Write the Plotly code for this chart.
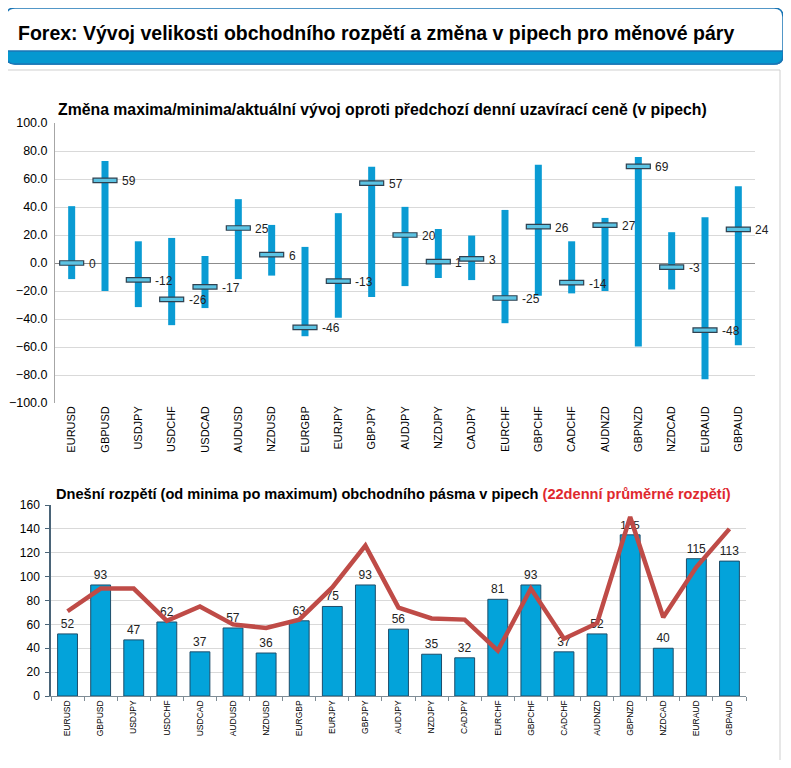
import plotly.graph_objects as go

# The page body has an 8px margin, so the figure is sized to fit inside it.
OFF = 8
W, H = 791 - 2 * OFF, 768 - 2 * OFF

pairs = ["EURUSD", "GBPUSD", "USDJPY", "USDCHF", "USDCAD", "AUDUSD", "NZDUSD",
         "EURGBP", "EURJPY", "GBPJPY", "AUDJPY", "NZDJPY", "CADJPY", "EURCHF",
         "GBPCHF", "CADCHF", "AUDNZD", "GBPNZD", "NZDCAD", "EURAUD", "GBPAUD"]

# change of daily high / low vs previous close (pips)
day_high = [40.6, 72.8, 15.5, 17.9, 5.0, 45.6, 27.2, 11.5, 35.6, 68.7, 40.1,
            24.3, 19.6, 37.9, 70.2, 15.5, 32.2, 75.7, 22.0, 32.7, 54.9]
day_low = [-11.5, -20.0, -31.5, -44.4, -32.2, -11.5, -9.0, -52.3, -39.1, -24.3, -16.5,
           -10.7, -12.2, -43.0, -23.4, -21.7, -20.0, -59.7, -18.9, -83.0, -58.7]
current = [0, 59, -12, -26, -17, 25, 6, -46, -13, 57, 20,
           1, 3, -25, 26, -14, 27, 69, -3, -48, 24]

# today's range (pips) and 22-day average range
today_range = [52, 93, 47, 62, 37, 57, 36, 63, 75, 93, 56,
               35, 32, 81, 93, 37, 52, 135, 40, 115, 113]
avg22_range = [71, 90, 90, 63, 75, 60, 57, 64, 91, 126, 74,
               65, 64, 38, 90, 48, 61, 150, 66, 108, 140]

FONT = "Liberation Sans, Arial, sans-serif"
CAT_RANGE = [-0.5, len(pairs) - 0.5]


def px(x):
    return (x - OFF) / W


def py(y):
    return 1 - (y - OFF) / H


fig = go.Figure()

# ---------- top chart ----------
fig.add_trace(go.Bar(
    x=pairs, y=[h - l for h, l in zip(day_high, day_low)], base=day_low,
    width=0.21, marker=dict(color="#0a9bd3", line=dict(width=0)),
    xaxis="x", yaxis="y", showlegend=False, hoverinfo="skip"))
fig.add_trace(go.Bar(
    x=pairs, y=[3.2] * len(pairs), base=[c - 1.6 for c in current],
    width=0.72, marker=dict(color="#5cc3e3", line=dict(color="#2f4150", width=1.2)),
    xaxis="x", yaxis="y", showlegend=False, hoverinfo="skip"))

annotations = []
for p, c in zip(pairs, current):
    annotations.append(dict(x=p, y=c, xref="x", yref="y", text=str(c), showarrow=False,
                            xanchor="left", yanchor="middle", xshift=15, yshift=-1,
                            font=dict(family=FONT, size=12, color="#222222")))

# ---------- bottom chart ----------
fig.add_trace(go.Bar(
    x=pairs, y=today_range, width=0.6,
    marker=dict(color="#03a3da", line=dict(color="#1d4d6a", width=1)),
    text=[str(v) for v in today_range], textposition="outside",
    textfont=dict(family=FONT, size=12, color="#222222"), cliponaxis=False,
    xaxis="x2", yaxis="y2", showlegend=False, hoverinfo="skip"))
fig.add_trace(go.Scatter(
    x=pairs, y=avg22_range, mode="lines",
    line=dict(color="#bf4b47", width=4.5),
    xaxis="x2", yaxis="y2", showlegend=False, hoverinfo="skip"))

# ---------- decorations ----------
shapes = []
# outer panel
shapes.append(dict(type="rect", xref="paper", yref="paper",
                   x0=px(6), x1=px(780), y0=py(70), y1=py(790),
                   line=dict(color="#cfcfcf", width=1), fillcolor="rgba(0,0,0,0)", layer="below"))


def rounded(x0, y0, x1, y1, r, top=True, bottom=True):
    rt = r if top else 0
    rb = r if bottom else 0
    pts = [f"M {px(x0 + rt)},{py(y0)}", f"L {px(x1 - rt)},{py(y0)}"]
    if rt:
        pts.append(f"Q {px(x1)},{py(y0)} {px(x1)},{py(y0 + rt)}")
    pts.append(f"L {px(x1)},{py(y1 - rb)}")
    if rb:
        pts.append(f"Q {px(x1)},{py(y1)} {px(x1 - rb)},{py(y1)}")
    pts.append(f"L {px(x0 + rb)},{py(y1)}")
    if rb:
        pts.append(f"Q {px(x0)},{py(y1)} {px(x0)},{py(y1 - rb)}")
    pts.append(f"L {px(x0)},{py(y0 + rt)}")
    if rt:
        pts.append(f"Q {px(x0)},{py(y0)} {px(x0 + rt)},{py(y0)}")
    pts.append("Z")
    return " ".join(pts)


# header box: blue band + border
shapes.append(dict(type="path", xref="paper", yref="paper",
                   path=rounded(6, 8, 783, 64, 9),
                   fillcolor="#ffffff", line=dict(color="#1a75b5", width=1.5)))
shapes.append(dict(type="path", xref="paper", yref="paper",
                   path=rounded(6, 51, 783, 64, 9, top=False),
                   fillcolor="#0598d0", line=dict(color="#1a75b5", width=1.5)))

annotations.append(dict(x=px(16), y=py(33), xref="paper", yref="paper",
                        text="<b>Forex: Vývoj velikosti obchodního rozpětí a změna v pipech pro měnové páry</b>",
                        showarrow=False, xanchor="left", yanchor="middle",
                        font=dict(family=FONT, size=19.5, color="#000000")))
annotations.append(dict(x=px(56), y=py(110), xref="paper", yref="paper",
                        text="<b>Změna maxima/minima/aktuální vývoj oproti předchozí denní uzavírací ceně (v pipech)</b>",
                        showarrow=False, xanchor="left", yanchor="middle",
                        font=dict(family=FONT, size=15.8, color="#000000")))
annotations.append(dict(x=px(54), y=py(494), xref="paper", yref="paper",
                        text="<b>Dnešní rozpětí (od minima po maximum) obchodního pásma v pipech "
                             "<span style='color:#e0282e'>(22denní průměrné rozpětí)</span></b>",
                        showarrow=False, xanchor="left", yanchor="middle",
                        font=dict(family=FONT, size=14.6, color="#000000")))

fig.update_layout(
    width=W, height=H,
    margin=dict(l=0, r=0, t=0, b=0, autoexpand=False),
    paper_bgcolor="#ffffff", plot_bgcolor="#ffffff",
    barmode="overlay",
    font=dict(family=FONT, color="#000000"),
    shapes=shapes, annotations=annotations,
    xaxis=dict(domain=[px(55), px(755)], anchor="y", type="category", automargin=False,
               range=CAT_RANGE, autorange=False,
               tickangle=-90, tickfont=dict(family=FONT, size=11, color="#000000"),
               showline=False, showgrid=False, ticks="", fixedrange=True),
    yaxis=dict(domain=[py(403), py(123)], anchor="x", range=[-100, 100], dtick=20,
               automargin=False, ticklabelstandoff=4,
               tickformat=".1f", tickfont=dict(family=FONT, size=12.5, color="#000000"),
               showgrid=True, gridcolor="#d9d9d9", gridwidth=1,
               zeroline=True, zerolinecolor="#8c8c8c", zerolinewidth=1,
               showline=True, linecolor="#a6a6a6", linewidth=1, ticks="", ticklen=0),
    xaxis2=dict(domain=[px(51), px(746)], anchor="y2", type="category", automargin=False,
                range=CAT_RANGE, autorange=False,
                tickangle=-90, tickfont=dict(family=FONT, size=8.5, color="#000000"),
                showline=True, linecolor="#7f8c95", linewidth=1,
                ticks="outside", tickson="boundaries", ticklen=4, tickcolor="#7f8c95",
                showgrid=False),
    yaxis2=dict(domain=[py(696), py(505)], anchor="x2", range=[0, 160], dtick=20,
                automargin=False, ticklabelstandoff=3,
                tickfont=dict(family=FONT, size=12, color="#000000"),
                showgrid=True, gridcolor="#d9d9d9", gridwidth=1, zeroline=False,
                showline=True, linecolor="#4a6478", linewidth=1.5,
                ticks="outside", ticklen=4, tickcolor="#4a6478"),
)

fig.write_html("out.html")
